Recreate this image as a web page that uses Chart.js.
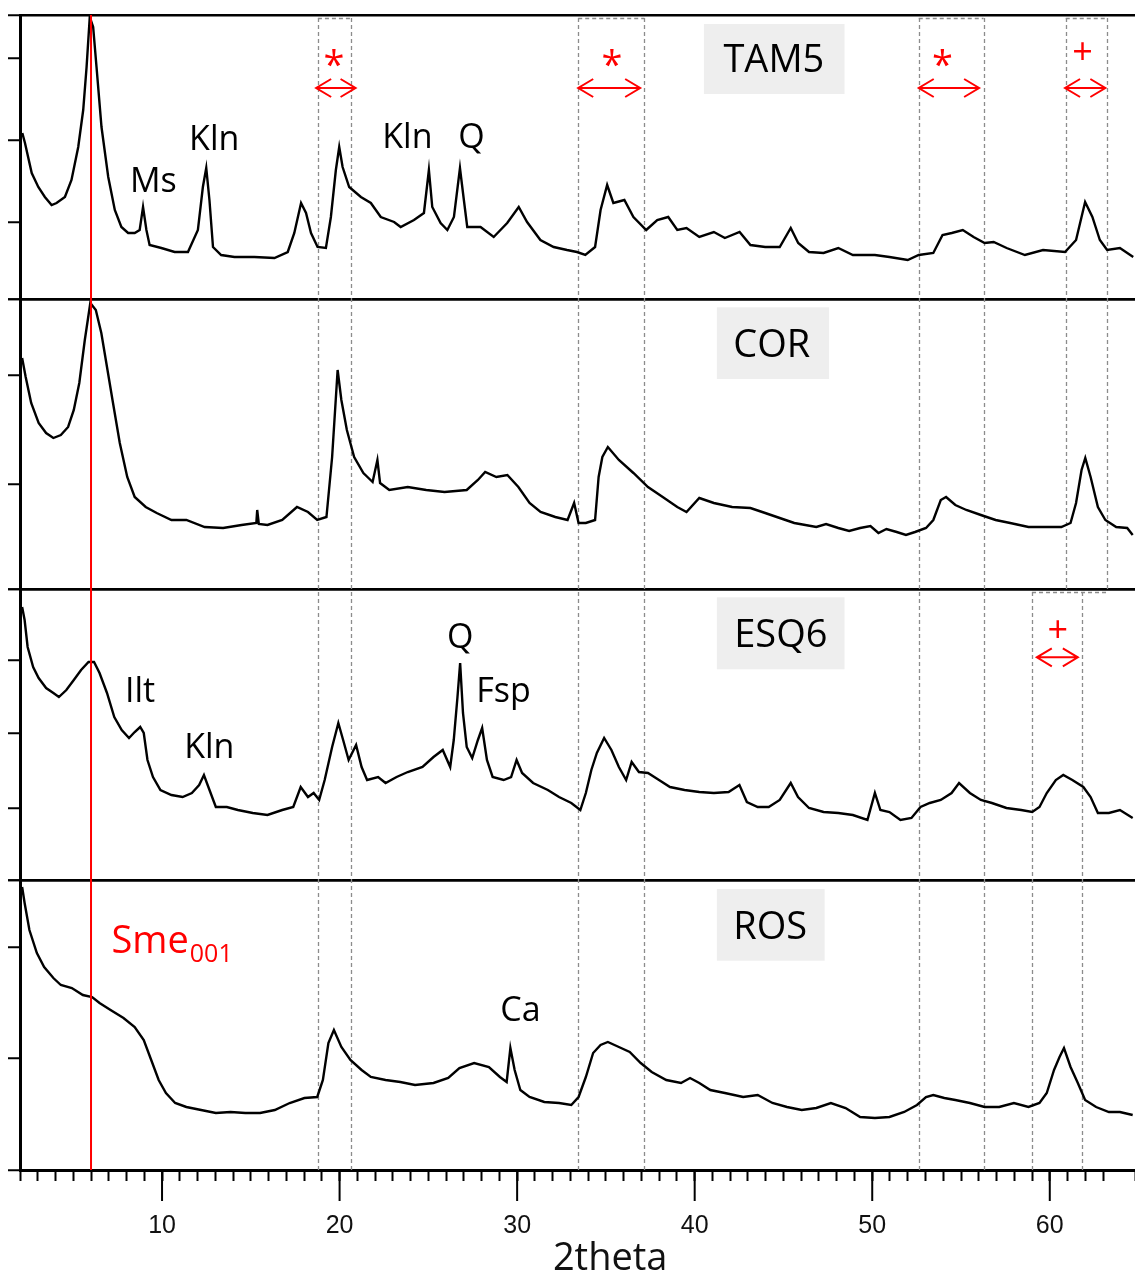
<!DOCTYPE html>
<html lang="en">
<head>
<meta charset="UTF-8">
<title>XRD patterns TAM5 / COR / ESQ6 / ROS</title>
<script src="https://cdn.jsdelivr.net/npm/chart.js@4"></script>
<style>
  body { margin: 0; background: #fff; }
  #xrd { display: block; }
</style>
</head>
<body>
<canvas id="xrd" width="1135" height="1277"></canvas>
<script>
// 2theta (deg) and intensity (arbitrary counts)
const tam5Angle = [
  2.13, 2.28, 2.66, 3.03, 3.40, 3.78, 4.06, 4.53, 4.90, 5.28,
  5.56, 5.75, 5.93, 6.12, 6.31, 6.59, 6.97, 7.34, 7.71, 8.09,
  8.46, 8.74, 8.93, 9.12, 9.30, 9.96, 10.71, 11.46, 12.02, 12.30,
  12.49, 12.67, 12.87, 13.33, 14.08, 15.20, 16.33, 17.08, 17.45, 17.83,
  18.11, 18.39, 18.76, 19.23, 19.51, 19.79, 19.98, 20.17, 20.54, 21.20,
  21.76, 22.32, 23.07, 23.44, 24.19, 24.75, 25.03, 25.22, 25.69, 26.07,
  26.44, 26.78, 27.00, 27.19, 27.94, 28.68, 29.44, 30.09, 30.56, 31.31,
  32.06, 32.81, 33.37, 33.84, 34.39, 34.70, 35.07, 35.42, 36.04, 36.55,
  37.27, 37.89, 38.51, 39.02, 39.54, 40.26, 41.08, 41.70, 42.53, 43.14,
  43.97, 44.79, 45.41, 45.83, 46.44, 47.26, 48.09, 48.91, 50.15, 50.97,
  52.00, 52.62, 53.44, 53.96, 54.48, 55.10, 55.71, 56.33, 56.84, 57.57,
  58.60, 59.62, 60.86, 61.48, 61.99, 62.40, 62.82, 63.23, 63.95, 64.70
];
const tam5Counts = [
  1660, 1560, 1260, 1120, 1020, 940, 960, 1020, 1190, 1520,
  1890, 2320, 2820, 2720, 2320, 1720, 1220, 890, 720, 660,
  660, 690, 920, 690, 540, 510, 470, 470, 690, 1120,
  1310, 990, 520, 440, 420, 420, 410, 470, 660, 960,
  860, 660, 520, 510, 820, 1290, 1520, 1320, 1120, 1020,
  960, 820, 770, 720, 790, 860, 1290, 920, 760, 690,
  820, 1310, 990, 720, 720, 620, 760, 920, 770, 590,
  520, 490, 470, 440, 520, 890, 1140, 960, 990, 820,
  690, 790, 820, 690, 710, 620, 670, 610, 670, 540,
  520, 520, 710, 560, 470, 460, 510, 440, 440, 420,
  390, 440, 460, 640, 660, 690, 620, 560, 570, 510,
  440, 490, 470, 590, 970, 820, 590, 490, 510, 420
];

const corAngle = [
  2.12, 2.32, 2.63, 3.05, 3.47, 3.88, 4.30, 4.71, 5.03, 5.34,
  5.65, 5.96, 6.27, 6.58, 6.90, 7.21, 7.62, 8.04, 8.46, 9.08,
  9.70, 10.53, 11.37, 12.40, 13.44, 14.48, 15.31, 15.36, 15.45, 15.94,
  16.77, 17.60, 18.22, 18.74, 19.26, 19.58, 19.89, 20.10, 20.41, 20.82,
  21.34, 21.86, 22.13, 22.28, 22.80, 23.84, 24.88, 25.91, 27.16, 27.79,
  28.20, 28.83, 29.45, 30.07, 30.70, 31.32, 32.15, 32.84, 33.21, 33.46,
  33.87, 34.39, 34.59, 34.80, 35.11, 35.73, 36.55, 37.37, 38.20, 39.02,
  39.54, 40.26, 41.08, 42.11, 43.14, 43.97, 44.79, 45.61, 46.85, 47.40,
  48.09, 48.70, 49.32, 49.90, 50.35, 50.80, 51.38, 51.90, 52.41, 53.03,
  53.44, 53.86, 54.16, 54.68, 55.30, 56.12, 56.95, 57.77, 58.80, 59.83,
  60.65, 61.17, 61.48, 61.79, 62.00, 62.30, 62.71, 63.13, 63.74, 64.36,
  64.67
];
const corCounts = [
  2310, 2120, 1860, 1660, 1560, 1510, 1540, 1620, 1790, 2060,
  2490, 2860, 2790, 2560, 2220, 1890, 1460, 1120, 920, 820,
  760, 690, 690, 620, 610, 640, 660, 790, 650, 640,
  690, 820, 770, 690, 720, 1320, 2190, 1890, 1590, 1320,
  1160, 1070, 1290, 1060, 990, 1020, 990, 970, 990, 1090,
  1170, 1120, 1140, 1020, 860, 770, 720, 690, 860, 660,
  660, 690, 1120, 1320, 1420, 1290, 1160, 1020, 920, 820,
  770, 910, 860, 820, 810, 760, 710, 660, 620, 650,
  610, 580, 610, 630, 560, 600, 570, 540, 570, 610,
  690, 890, 920, 840, 790, 740, 690, 660, 620, 620,
  620, 660, 860, 1190, 1310, 1120, 820, 690, 620, 610,
  540
];

const esq6Angle = [
  2.12, 2.26, 2.43, 2.74, 3.05, 3.47, 3.88, 4.19, 4.61, 5.03,
  5.44, 5.86, 6.17, 6.48, 6.90, 7.31, 7.73, 8.14, 8.46, 8.77,
  8.97, 9.18, 9.49, 9.91, 10.53, 11.16, 11.68, 12.09, 12.36, 12.61,
  13.03, 13.65, 14.27, 15.11, 15.94, 16.77, 17.39, 17.81, 18.22, 18.54,
  18.85, 19.16, 19.58, 19.93, 20.20, 20.51, 20.93, 21.24, 21.55, 22.17,
  22.59, 23.21, 23.84, 24.67, 25.29, 25.81, 26.23, 26.43, 26.64, 26.79,
  26.95, 27.16, 27.47, 27.79, 28.03, 28.30, 28.62, 29.24, 29.66, 29.97,
  30.28, 30.90, 31.73, 32.36, 33.05, 33.56, 33.87, 34.18, 34.49, 34.90,
  35.31, 35.73, 36.14, 36.45, 36.86, 37.37, 37.99, 38.61, 39.43, 40.26,
  41.08, 41.91, 42.52, 42.94, 43.55, 44.17, 44.79, 45.41, 45.82, 46.44,
  47.26, 48.09, 48.91, 49.73, 50.15, 50.46, 50.97, 51.59, 52.21, 52.72,
  53.24, 53.86, 54.47, 54.89, 55.50, 56.12, 56.74, 57.56, 58.39, 59.01,
  59.42, 59.83, 60.34, 60.76, 61.27, 61.89, 62.30, 62.71, 63.33, 63.95,
  64.67
];
const esq6Counts = [
  2730, 2600, 2330, 2130, 2020, 1920, 1870, 1830, 1900, 2000,
  2100, 2180, 2180, 2070, 1870, 1630, 1500, 1420, 1480, 1530,
  1470, 1200, 1030, 900, 850, 830, 870, 950, 1050, 930,
  730, 730, 700, 670, 650, 700, 730, 930, 830, 870,
  800, 1000, 1330, 1570, 1400, 1200, 1350, 1130, 1000, 1030,
  970, 1030, 1080, 1130, 1230, 1300, 1130, 1400, 1830, 2170,
  1670, 1330, 1220, 1400, 1520, 1200, 1030, 1000, 1030, 1200,
  1070, 970, 900, 830, 770, 700, 870, 1100, 1270, 1420,
  1300, 1130, 1000, 1180, 1080, 1070, 1000, 930, 900, 880,
  870, 880, 950, 780, 730, 730, 800, 970, 830, 720,
  680, 670, 650, 600, 870, 700, 680, 600, 620, 730,
  770, 800, 870, 970, 870, 800, 770, 720, 700, 680,
  730, 870, 1000, 1050, 1000, 930, 830, 670, 670, 700,
  620
];

const rosAngle = [
  2.12, 2.26, 2.53, 2.95, 3.36, 3.88, 4.30, 4.92, 5.54, 6.06,
  6.48, 7.10, 7.83, 8.46, 8.97, 9.39, 9.81, 10.22, 10.74, 11.37,
  12.20, 13.03, 13.86, 14.69, 15.52, 16.35, 17.19, 18.02, 18.74, 19.06,
  19.37, 19.68, 20.10, 20.61, 21.24, 21.76, 22.59, 23.42, 24.25, 25.29,
  26.12, 26.75, 27.58, 28.41, 29.03, 29.41, 29.62, 29.86, 30.18, 30.70,
  31.53, 32.36, 33.05, 33.46, 33.87, 34.28, 34.70, 35.11, 35.73, 36.34,
  36.96, 37.58, 38.40, 39.23, 39.74, 40.26, 40.88, 41.70, 42.73, 43.55,
  44.38, 45.20, 46.03, 46.85, 47.67, 48.50, 49.32, 50.15, 50.97, 51.80,
  52.52, 53.03, 53.44, 54.06, 54.68, 55.50, 56.33, 57.15, 57.98, 58.80,
  59.42, 59.83, 60.24, 60.55, 60.80, 61.17, 61.58, 61.99, 62.61, 63.33,
  63.95, 64.67
];
const rosCounts = [
  2830, 2670, 2400, 2170, 2030, 1920, 1850, 1820, 1750, 1730,
  1670, 1600, 1520, 1430, 1300, 1100, 900, 770, 670, 630,
  600, 570, 580, 570, 570, 600, 670, 720, 730, 900,
  1270, 1400, 1230, 1100, 1000, 930, 900, 880, 850, 870,
  920, 1020, 1070, 1030, 930, 880, 1220, 1000, 800, 730,
  680, 670, 650, 730, 930, 1170, 1250, 1280, 1230, 1180,
  1070, 980, 900, 870, 920, 870, 800, 770, 730, 750,
  670, 630, 600, 620, 670, 620, 530, 520, 530, 580,
  650, 730, 750, 720, 700, 670, 630, 630, 670, 630,
  670, 770, 1000, 1130, 1220, 1030, 870, 700, 630, 580,
  580, 550
];

const xTickLabels = [10, 20, 30, 40, 50, 60];

// panel tick values (counts) on the left axis of each pattern
const tam5Ticks = [770, 1590, 2410];
const corTicks = [1050, 2140];
const esq6Ticks = [720, 1470, 2200];
const rosTicks = [1120, 2230];

// reference positions (2theta)
const smeLine = 6.0;
const bandLines = [
  { at: 18.78, from: 'yTam', to: 'yRos' },
  { at: 20.65, from: 'yTam', to: 'yRos' },
  { at: 33.44, from: 'yTam', to: 'yRos' },
  { at: 37.17, from: 'yTam', to: 'yRos' },
  { at: 52.62, from: 'yTam', to: 'yRos' },
  { at: 56.27, from: 'yTam', to: 'yRos' },
  { at: 60.90, from: 'yTam', to: 'yCor' },
  { at: 63.20, from: 'yTam', to: 'yCor' },
  { at: 59.00, from: 'yEsq', to: 'yRos' },
  { at: 61.80, from: 'yEsq', to: 'yRos' }
];
const bandTops = [
  { panel: 'yTam', from: 18.78, to: 20.65 },
  { panel: 'yTam', from: 33.44, to: 37.17 },
  { panel: 'yTam', from: 52.62, to: 56.27 },
  { panel: 'yTam', from: 60.90, to: 63.20 },
  { panel: 'yEsq', from: 59.00, to: 63.20 }
];
const arrows = [
  { panel: 'yTam', from: 18.68, to: 20.90, y: 2110, mark: '*', mx: 19.68, my: 2410 },
  { panel: 'yTam', from: 33.44, to: 36.93, y: 2110, mark: '*', mx: 35.34, my: 2410 },
  { panel: 'yTam', from: 52.62, to: 56.02, y: 2110, mark: '*', mx: 53.95, my: 2410 },
  { panel: 'yTam', from: 60.86, to: 63.13, y: 2110, mark: '+', mx: 61.85, my: 2480 },
  { panel: 'yEsq', from: 59.27, to: 61.58, y: 2227, mark: '+', mx: 60.45, my: 2510 }
];
const sampleTags = [
  { panel: 'yTam', text: 'TAM5', box: [40.52, 48.44, 2750, 2050], at: [44.46, 2273] },
  { panel: 'yCor', text: 'COR', box: [41.25, 47.57, 2817, 2100], at: [44.34, 2323] },
  { panel: 'yEsq', text: 'ESQ6', box: [41.25, 48.44, 2827, 2107], at: [44.85, 2333] },
  { panel: 'yRos', text: 'ROS', box: [41.25, 47.32, 2810, 2093], at: [44.25, 2310] }
];
const phaseLabels = [
  { panel: 'yTam', text: 'Ms', x: 9.51, y: 1070 },
  { panel: 'yTam', text: 'Kln', x: 12.94, y: 1490 },
  { panel: 'yTam', text: 'Kln', x: 23.82, y: 1510 },
  { panel: 'yTam', text: 'Q', x: 27.43, y: 1510 },
  { panel: 'yEsq', text: 'Ilt', x: 8.76, y: 1783 },
  { panel: 'yEsq', text: 'Kln', x: 12.66, y: 1217 },
  { panel: 'yEsq', text: 'Q', x: 26.80, y: 2317 },
  { panel: 'yEsq', text: 'Fsp', x: 29.23, y: 1783 },
  { panel: 'yRos', text: 'Ca', x: 30.19, y: 1493 }
];

const textFont = "'Open Sans', 'Noto Sans', sans-serif";

function series(angle, counts) {
  return angle.map((a, i) => ({ x: a, y: counts[i] }));
}

function panelAxis(weight, max, ticks, stackWeight) {
  return {
    type: 'linear',
    position: 'left',
    stack: 'xrd',
    stackWeight: stackWeight,
    weight: weight,
    min: 0,
    max: max,
    afterBuildTicks: (scale) => {
      scale.ticks = [0].concat(ticks, [max]).map(v => ({ value: v }));
    },
    ticks: { display: false },
    border: { display: true, color: '#000', width: 3 },
    grid: {
      drawOnChartArea: true,
      color: (c) => (c.tick && (c.tick.value === 0 || c.tick.value === max)) ? '#000' : 'rgba(0,0,0,0)',
      lineWidth: 2.5,
      tickColor: '#000',
      tickWidth: 2,
      tickLength: 12
    }
  };
}

function drawArrow(ctx, x1, x2, y) {
  const h = 15, v = 9;
  ctx.beginPath();
  ctx.moveTo(x1, y); ctx.lineTo(x2, y);
  ctx.moveTo(x1 + h, y - v); ctx.lineTo(x1, y); ctx.lineTo(x1 + h, y + v);
  ctx.moveTo(x2 - h, y - v); ctx.lineTo(x2, y); ctx.lineTo(x2 - h, y + v);
  ctx.stroke();
}

function centredGlyph(ctx, text, px, py) {
  const m = ctx.measureText(text);
  ctx.textBaseline = 'alphabetic';
  ctx.fillText(text, px, py + (m.actualBoundingBoxAscent - m.actualBoundingBoxDescent) / 2);
}

const overlay = {
  id: 'overlay',
  beforeDatasetsDraw(chart) {
    const { ctx, scales } = chart;
    const x = scales.x;
    ctx.save();
    ctx.strokeStyle = '#8c8c8c';
    ctx.lineWidth = 1.3;
    ctx.setLineDash([4, 3]);
    bandLines.forEach(b => {
      const px = Math.round(x.getPixelForValue(b.at)) + 0.5;
      ctx.beginPath();
      ctx.moveTo(px, scales[b.from].top + 3);
      ctx.lineTo(px, scales[b.to].bottom);
      ctx.stroke();
    });
    bandTops.forEach(b => {
      const py = scales[b.panel].top + 3.5;
      ctx.beginPath();
      ctx.moveTo(x.getPixelForValue(b.from), py);
      ctx.lineTo(x.getPixelForValue(b.to), py);
      ctx.stroke();
    });
    ctx.restore();
  },
  afterDatasetsDraw(chart) {
    const { ctx, scales } = chart;
    const x = scales.x;
    ctx.save();

    // Sme 001 reflection
    const rx = x.getPixelForValue(smeLine);
    ctx.strokeStyle = '#ff0000';
    ctx.lineWidth = 2;
    ctx.beginPath();
    ctx.moveTo(rx, scales.yTam.top);
    ctx.lineTo(rx, scales.yRos.bottom);
    ctx.stroke();

    // sample names on grey boxes
    sampleTags.forEach(t => {
      const y = scales[t.panel];
      const x1 = x.getPixelForValue(t.box[0]), x2 = x.getPixelForValue(t.box[1]);
      const y1 = y.getPixelForValue(t.box[2]), y2 = y.getPixelForValue(t.box[3]);
      ctx.fillStyle = '#eeeeee';
      ctx.fillRect(x1, y1, x2 - x1, y2 - y1);
      ctx.fillStyle = '#000';
      ctx.font = `38px ${textFont}`;
      ctx.textAlign = 'center';
      ctx.textBaseline = 'alphabetic';
      ctx.fillText(t.text, x.getPixelForValue(t.at[0]), y.getPixelForValue(t.at[1]));
    });

    // phase labels
    ctx.fillStyle = '#000';
    ctx.font = `34px ${textFont}`;
    ctx.textAlign = 'center';
    ctx.textBaseline = 'alphabetic';
    phaseLabels.forEach(l => {
      ctx.fillText(l.text, x.getPixelForValue(l.x), scales[l.panel].getPixelForValue(l.y));
    });

    // red arrows with * / + marks
    ctx.strokeStyle = '#ff0000';
    ctx.fillStyle = '#ff0000';
    ctx.lineWidth = 2;
    arrows.forEach(a => {
      const y = scales[a.panel];
      drawArrow(ctx, x.getPixelForValue(a.from), x.getPixelForValue(a.to), y.getPixelForValue(a.y));
      ctx.font = a.mark === '*' ? `38px ${textFont}` : `36px ${textFont}`;
      ctx.textAlign = 'center';
      centredGlyph(ctx, a.mark, x.getPixelForValue(a.mx), y.getPixelForValue(a.my));
    });

    // Sme001 label
    ctx.textAlign = 'left';
    ctx.textBaseline = 'alphabetic';
    ctx.font = `38px ${textFont}`;
    const sx = x.getPixelForValue(7.15);
    const sy = scales.yRos.getPixelForValue(2173);
    ctx.fillText('Sme', sx, sy);
    const sw = ctx.measureText('Sme').width;
    ctx.font = `25px ${textFont}`;
    ctx.fillText('001', sx + sw + 1, sy + 9);

    // long major ticks on the 2theta axis
    ctx.strokeStyle = '#000';
    ctx.lineWidth = 2;
    const yb = x.top;
    xTickLabels.forEach(v => {
      const px = x.getPixelForValue(v);
      ctx.beginPath();
      ctx.moveTo(px, yb);
      ctx.lineTo(px, yb + 31);
      ctx.stroke();
    });

    // axis title
    ctx.fillStyle = '#111';
    ctx.font = `38px ${textFont}`;
    ctx.textAlign = 'center';
    ctx.fillText('2theta', x.getPixelForValue(35.24), 1270);
    ctx.restore();
  }
};

const lineStyle = {
  borderColor: '#000',
  borderWidth: 2.4,
  pointRadius: 0,
  tension: 0,
  fill: false
};

new Chart(document.getElementById('xrd'), {
  type: 'line',
  data: {
    datasets: [
      Object.assign({ label: 'TAM5', data: series(tam5Angle, tam5Counts), yAxisID: 'yTam' }, lineStyle),
      Object.assign({ label: 'COR', data: series(corAngle, corCounts), yAxisID: 'yCor' }, lineStyle),
      Object.assign({ label: 'ESQ6', data: series(esq6Angle, esq6Counts), yAxisID: 'yEsq' }, lineStyle),
      Object.assign({ label: 'ROS', data: series(rosAngle, rosCounts), yAxisID: 'yRos' }, lineStyle)
    ]
  },
  options: {
    responsive: false,
    animation: false,
    devicePixelRatio: 1,
    layout: { autoPadding: false, padding: { top: 15, left: 8, right: 0, bottom: 0 } },
    plugins: { legend: { display: false }, tooltip: { enabled: false } },
    scales: {
      x: {
        type: 'linear',
        min: 2,
        max: 64.8,
        afterFit: (scale) => { scale.height = 107; },
        ticks: {
          stepSize: 1,
          autoSkip: false,
          maxRotation: 0,
          padding: 0,
          color: '#111',
          font: { family: "'Liberation Sans Narrow', 'Liberation Sans', Arial, sans-serif", size: 25 },
          // empty first line pushes the number below the long major tick
          callback: (v) => xTickLabels.includes(v) ? ['', String(v)] : ''
        },
        border: { display: true, color: '#000', width: 3 },
        grid: { drawOnChartArea: false, drawTicks: true, tickLength: 11, tickColor: '#000', tickWidth: 2 }
      },
      yTam: panelAxis(4, 2840, tam5Ticks, 284),
      yCor: panelAxis(3, 2900, corTicks, 290),
      yEsq: panelAxis(2, 2910, esq6Ticks, 291),
      yRos: panelAxis(1, 2900, rosTicks, 290)
    }
  },
  plugins: [overlay]
});
</script>
</body>
</html>
